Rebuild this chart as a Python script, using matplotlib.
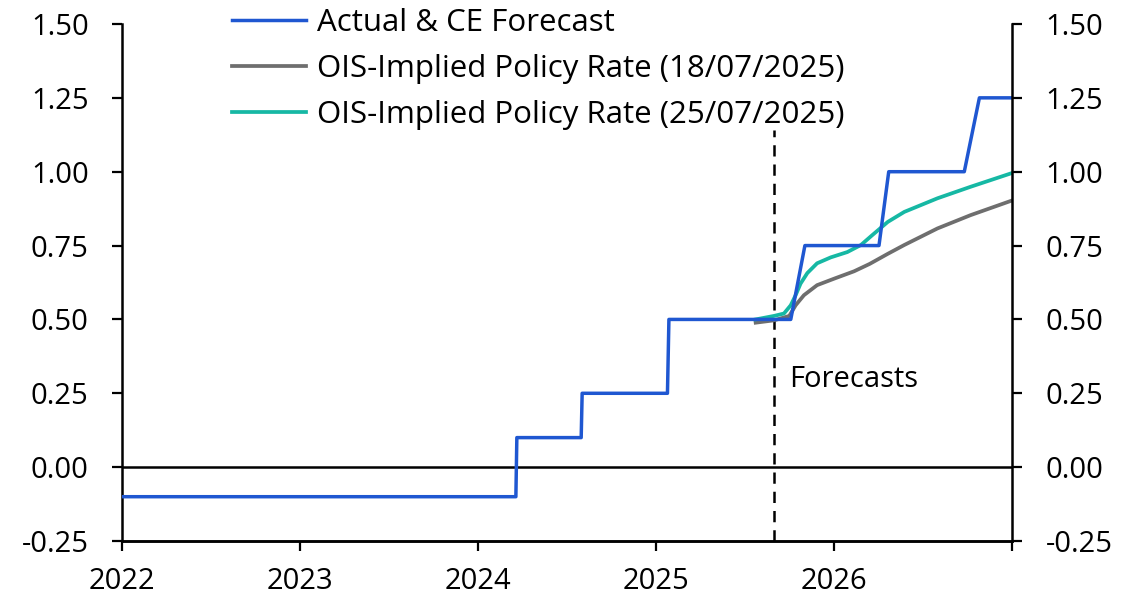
import matplotlib
matplotlib.use("Agg")
import matplotlib.pyplot as plt
import matplotlib.dates as mdates
import pandas as pd

plt.rcParams["font.family"] = ["Open Sans", "DejaVu Sans"]

# Actual & CE forecast (policy rate, %)
ce_dates = ["2022-01-01", "2024-03-19", "2024-03-21", "2024-07-31", "2024-08-02",
            "2025-01-24", "2025-01-27", "2025-10-04", "2025-11-02", "2026-04-03",
            "2026-04-23", "2026-09-25", "2026-10-26", "2026-12-31"]
ce_rate = [-0.10, -0.10, 0.10, 0.10, 0.25, 0.25, 0.50, 0.50, 0.75, 0.75,
           1.00, 1.00, 1.25, 1.25]

# OIS-implied policy rate, 25/07/2025
ois_0725_dates = ["2025-07-24", "2025-08-31", "2025-09-20", "2025-10-04", "2025-10-14",
                  "2025-10-24", "2025-11-07", "2025-11-27", "2025-12-25", "2026-01-28",
                  "2026-02-25", "2026-03-20", "2026-04-21", "2026-05-25",
                  "2026-08-01", "2026-10-08", "2026-12-31"]
ois_0725 = [0.500, 0.512, 0.520, 0.548, 0.582, 0.621, 0.657, 0.690, 0.710, 0.728,
            0.752, 0.785, 0.830, 0.864, 0.910, 0.949, 0.995]

# OIS-implied policy rate, 18/07/2025
ois_0718_dates = ["2025-07-24", "2025-08-31", "2025-10-01", "2025-10-14", "2025-10-31",
                  "2025-11-27", "2026-01-01", "2026-02-11", "2026-03-15", "2026-04-21",
                  "2026-05-25", "2026-08-01", "2026-10-08", "2026-12-31"]
ois_0718 = [0.489, 0.497, 0.512, 0.548, 0.582, 0.616, 0.638, 0.663, 0.688, 0.722,
            0.752, 0.808, 0.853, 0.902]

yticks = [-0.25, 0.0, 0.25, 0.5, 0.75, 1.0, 1.25, 1.5]
forecast_start = "2025-08-31"

blue = "#1F57D1"
grey = "#6E6E6E"
teal = "#16B8A4"

fig = plt.figure(figsize=(11.27, 6.07), dpi=100)
ax = fig.add_axes([0.1083, 0.1087, 0.7897, 0.8518])

ax.plot(pd.to_datetime(ce_dates), ce_rate, color=blue, lw=2.5,
        label="Actual & CE Forecast", zorder=4)
ax.plot(pd.to_datetime(ois_0718_dates), ois_0718, color=grey, lw=2.7,
        label="OIS-Implied Policy Rate (18/07/2025)", zorder=3)
ax.plot(pd.to_datetime(ois_0725_dates), ois_0725, color=teal, lw=2.7,
        label="OIS-Implied Policy Rate (25/07/2025)", zorder=3)

ax.axhline(0, color="black", lw=1.8, zorder=2)
ax.vlines(pd.Timestamp(forecast_start), -0.25, 1.14, colors="black",
          linestyles=(0, (4.5, 3.2)), lw=1.8, zorder=2)
ax.text(pd.Timestamp("2025-10-01"), 0.295, "Forecasts", fontsize=21,
        va="center", ha="left")

ax.set_xlim(pd.Timestamp("2022-01-01"), pd.Timestamp("2027-01-01"))
ax.set_ylim(-0.25, 1.5)
ax.set_yticks(yticks)
ax.yaxis.set_major_formatter(matplotlib.ticker.FormatStrFormatter("%.2f"))
ax.xaxis.set_major_locator(mdates.YearLocator())
ax.xaxis.set_major_formatter(mdates.DateFormatter("%Y"))

ax2 = ax.twinx()
ax2.set_ylim(-0.25, 1.5)
ax2.set_yticks(yticks)
ax2.yaxis.set_major_formatter(matplotlib.ticker.FormatStrFormatter("%.2f"))

for a in (ax, ax2):
    a.spines["top"].set_visible(False)
    for s in a.spines.values():
        s.set_linewidth(1.8)
    a.tick_params(direction="out", length=7, width=1.6, labelsize=21)
ax.tick_params(axis="y", pad=17)
ax2.tick_params(axis="y", pad=17)
ax.tick_params(axis="x", pad=12)
ax2.spines["left"].set_visible(False)
ax.spines["right"].set_visible(False)

# hide the 2027 label at the right edge
ax.set_xticks(ax.get_xticks())
ax.set_xticklabels([l.get_text() if l.get_text() != "2027" else ""
                    for l in ax.get_xticklabels()])

fig.legend(loc="upper left", bbox_to_anchor=(0.195, 1.007), frameon=False,
           fontsize=22.5, handlelength=2.35, handletextpad=0.35, labelspacing=0.5,
           borderaxespad=0)

fig.savefig("out.png", dpi=100)
